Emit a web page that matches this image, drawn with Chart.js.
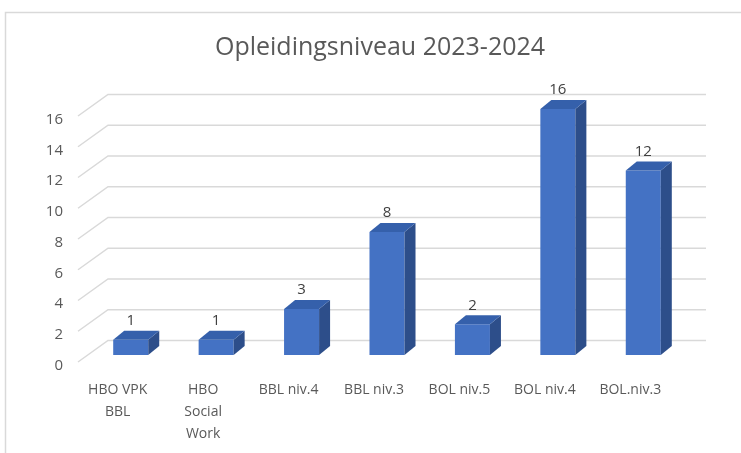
<!DOCTYPE html>
<html>
<head>
<meta charset="utf-8">
<script src="https://cdn.jsdelivr.net/npm/chart.js@4/dist/chart.umd.min.js"></script>
<style>
  html, body { margin: 0; padding: 0; background: #fff; }
  canvas { display: block; }
</style>
</head>
<body>
<canvas id="chartLevel" width="741" height="453"></canvas>
<script>
// Data
const titleText = "Opleidingsniveau 2023-2024";
const categories = [
    ["HBO VPK", "BBL"],
    ["HBO", "Social", "Work"],
    "BBL niv.4",
    "BBL niv.3",
    "BOL niv.5",
    "BOL niv.4",
    "BOL.niv.3"
];
const studentCounts = [1, 1, 3, 8, 2, 16, 12];
const yTicks = { min: 0, max: 16, step: 2 };

const textColor = "#595959";
const gridColor = "#d9d9d9";
const frontColor = "#4472c4";
const sideColor = "#2d4e8a";
const topColor = "#3560ab";

// depth of the fake 3d look
const backShift = { x: 20, y: -14.5 };
const frontShift = { x: -10, y: 7 };
const barDepth = { x: 11, y: -9 };

const font = "'Open Sans', 'Noto Sans', sans-serif";

// Draw the frame, back wall grid, bar sides and value labels
const fake3d = {
    id: "fake3d",
    beforeDraw(chart) {
        const ctx = chart.ctx;
        ctx.save();
        ctx.strokeStyle = gridColor;
        ctx.lineWidth = 1.5;
        ctx.strokeRect(5.5, 12.5, 800, 500);

        // title
        ctx.fillStyle = textColor;
        ctx.font = "25px " + font;
        ctx.textAlign = "center";
        ctx.textBaseline = "middle";
        ctx.fillText(titleText, 380, 48);
        ctx.restore();
    },
    beforeDatasetsDraw(chart) {
        const ctx = chart.ctx;
        const area = chart.chartArea;
        const y = chart.scales.y;
        ctx.save();
        ctx.strokeStyle = gridColor;
        ctx.lineWidth = 1.5;
        y.ticks.forEach(t => {
            const py = y.getPixelForValue(t.value);
            ctx.beginPath();
            ctx.moveTo(area.left + frontShift.x, py + frontShift.y);
            ctx.lineTo(area.left + backShift.x, py + backShift.y);
            ctx.lineTo(area.right + backShift.x, py + backShift.y);
            ctx.stroke();
        });
        ctx.restore();
    },
    afterDatasetsDraw(chart) {
        const ctx = chart.ctx;
        const meta = chart.getDatasetMeta(0);
        ctx.save();
        meta.data.forEach((bar, i) => {
            const half = bar.width / 2;
            const l = bar.x - half;
            const r = bar.x + half;

            ctx.fillStyle = sideColor;
            ctx.beginPath();
            ctx.moveTo(r, bar.y);
            ctx.lineTo(r + barDepth.x, bar.y + barDepth.y);
            ctx.lineTo(r + barDepth.x, bar.base + barDepth.y);
            ctx.lineTo(r, bar.base);
            ctx.closePath();
            ctx.fill();

            ctx.fillStyle = topColor;
            ctx.beginPath();
            ctx.moveTo(l, bar.y);
            ctx.lineTo(l + barDepth.x, bar.y + barDepth.y);
            ctx.lineTo(r + barDepth.x, bar.y + barDepth.y);
            ctx.lineTo(r, bar.y);
            ctx.closePath();
            ctx.fill();

            ctx.fillStyle = "#404040";
            ctx.font = "15px " + font;
            ctx.textAlign = "center";
            ctx.textBaseline = "middle";
            ctx.fillText(String(studentCounts[i]), bar.x, bar.y - 19);
        });
        ctx.restore();
    }
};

new Chart(document.getElementById("chartLevel"), {
    type: "bar",
    data: {
        labels: categories,
        datasets: [{
            label: "Aantal",
            data: studentCounts,
            backgroundColor: frontColor,
            borderWidth: 0,
            barPercentage: 0.41,
            categoryPercentage: 1
        }]
    },
    options: {
        responsive: false,
        animation: false,
        layout: { padding: { top: 109, right: 55, left: 0, bottom: 0 } },
        plugins: {
            legend: { display: false },
            title: { display: false },
            tooltip: { enabled: false }
        },
        scales: {
            x: {
                grid: { display: false, drawTicks: false },
                border: { display: false },
                ticks: {
                    color: textColor,
                    font: { family: font, size: 14, lineHeight: 1.57 },
                    padding: 24,
                    labelOffset: -13,
                    maxRotation: 0,
                    autoSkip: false
                },
                afterFit: s => { s.height = 98; }
            },
            y: {
                min: yTicks.min,
                max: yTicks.max,
                grid: { display: false, drawTicks: false },
                border: { display: false },
                ticks: {
                    stepSize: yTicks.step,
                    color: textColor,
                    font: { family: font, size: 15 },
                    padding: 25,
                    labelOffset: 10.5
                },
                afterFit: s => { s.width = 88; }
            }
        }
    },
    plugins: [fake3d]
});
</script>
</body>
</html>
